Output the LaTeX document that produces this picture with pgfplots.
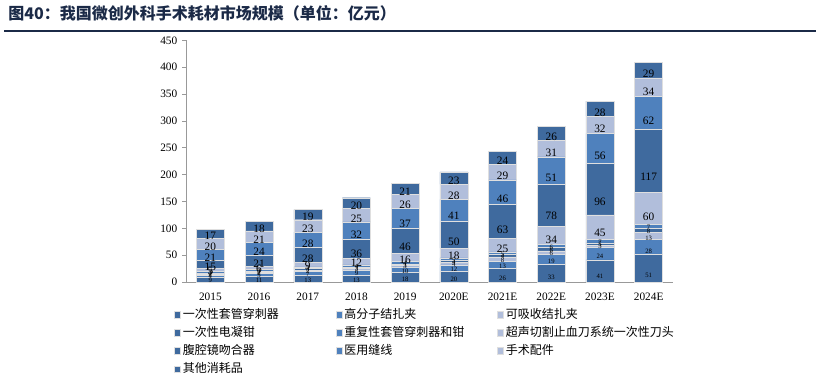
\documentclass[border=0pt]{standalone}
\usepackage{pgfplots}
\usepackage{pgfplotstable}
\pgfplotsset{compat=1.18}
\usepackage{fontspec}
\setmainfont{Liberation Serif}
\newfontfamily\cjk{Noto Sans CJK SC}
\definecolor{cdark}{HTML}{3F6A9E}
\definecolor{cmed}{HTML}{4F81BD}
\definecolor{clight}{HTML}{B1BEDB}
\definecolor{titlec}{HTML}{1B2A47}
\pgfplotstableread{
x s1 s2 s3 s4 s5 s6 s7 s8 s9 s10
0 9 4 2 2 3 5 15 21 20 17
1 11 5 2 2 3 6 21 24 21 18
2 13 7 2 3 3 9 28 28 23 19
3 13 9 3 3 4 12 36 32 25 20
4 18 10 3 3 4 16 46 37 26 21
5 20 12 4 4 5 18 50 41 28 23
6 26 13 8 4 5 25 63 46 29 24
7 33 19 6 6 6 34 78 51 31 26
8 41 24 3 5 7 45 96 56 32 28
9 51 28 13 8 7 60 117 62 34 29
}\datatable
\begin{document}
\begin{tikzpicture}
\useasboundingbox (0pt,0pt) rectangle (612pt,-283.5pt);
\node[anchor=west, inner sep=0pt, text=titlec, font=\cjk\bfseries\fontsize{12}{14}\selectfont] at (6pt,-9.75pt) {图40：我国微创外科手术耗材市场规模（单位：亿元）};
\draw[titlec, line width=1.1pt] (3pt,-23.3pt) -- (612pt,-23.3pt);
\begin{axis}[
  at={(139.5pt,-211.5pt)}, anchor=south west,
  scale only axis, width=365.25pt, height=181.2pt,
  ybar stacked, bar width=21pt,
  xmin=-0.5, xmax=9.5, ymin=0, ymax=450,
  ytick={0,50,...,450},
  xtick={0,...,9},
  xticklabels={2015,2016,2017,2018,2019,2020E,2021E,2022E,2023E,2024E},
  axis x line=bottom, axis y line=left,
  axis line style={-, draw=gray!80, line width=0.6pt},
  x tick style={draw=none},
  y tick style={draw=gray!80, line width=0.6pt},
  tick align=outside, major tick length=3pt,
  /pgf/number format/assume math mode=true,
  ticklabel style={font=\fontsize{8.5}{10}\selectfont},
  xticklabel style={yshift=-2pt},
  visualization depends on=rawy\as\rawy,
  nodes near coords={\pgfmathprintnumber{\rawy}},
  every node near coord/.append style={anchor=center, yshift={-0.100665pt*\rawy}, inner sep=0pt, text=black},
  small/.style={every node near coord/.append style={font=\fontsize{5}{5}\selectfont}},
  big/.style={every node near coord/.append style={font=\fontsize{8.5}{9}\selectfont}},
  legend columns=3,
  legend cell align=left,
  legend image code/.code={\fill[#1] (0pt,-2.4pt) rectangle (4.8pt,2.4pt);},
  legend style={draw=none, at={(-0.025,-0.10)}, anchor=north west, inner sep=0pt,
    font=\cjk\fontsize{9}{10}\selectfont, row sep=1.5pt,
    nodes={inner xsep=1.5pt, inner ysep=1.5pt, text width=113pt, align=left}},
]
\addplot[fill=cdark, draw=gray!25, line width=0.3pt, small] table[x=x,y=s1]{\datatable};
\addlegendentry{一次性套管穿刺器}
\addplot[fill=cmed, draw=gray!25, line width=0.3pt, small] table[x=x,y=s2]{\datatable};
\addlegendentry{高分子结扎夹}
\addplot[fill=clight, draw=gray!25, line width=0.3pt, small] table[x=x,y=s3]{\datatable};
\addlegendentry{可吸收结扎夹}
\addplot[fill=cdark, draw=gray!25, line width=0.3pt, small] table[x=x,y=s4]{\datatable};
\addlegendentry{一次性电凝钳}
\addplot[fill=cmed, draw=gray!25, line width=0.3pt, small] table[x=x,y=s5]{\datatable};
\addlegendentry{重复性套管穿刺器和钳}
\addplot[fill=clight, draw=gray!25, line width=0.3pt, big] table[x=x,y=s6]{\datatable};
\addlegendentry{超声切割止血刀系统一次性刀头}
\addplot[fill=cdark, draw=gray!25, line width=0.3pt, big] table[x=x,y=s7]{\datatable};
\addlegendentry{腹腔镜吻合器}
\addplot[fill=cmed, draw=gray!25, line width=0.3pt, big] table[x=x,y=s8]{\datatable};
\addlegendentry{医用缝线}
\addplot[fill=clight, draw=gray!25, line width=0.3pt, big] table[x=x,y=s9]{\datatable};
\addlegendentry{手术配件}
\addplot[fill=cdark, draw=gray!25, line width=0.3pt, big] table[x=x,y=s10]{\datatable};
\addlegendentry{其他消耗品}
\end{axis}
\end{tikzpicture}
\end{document}
